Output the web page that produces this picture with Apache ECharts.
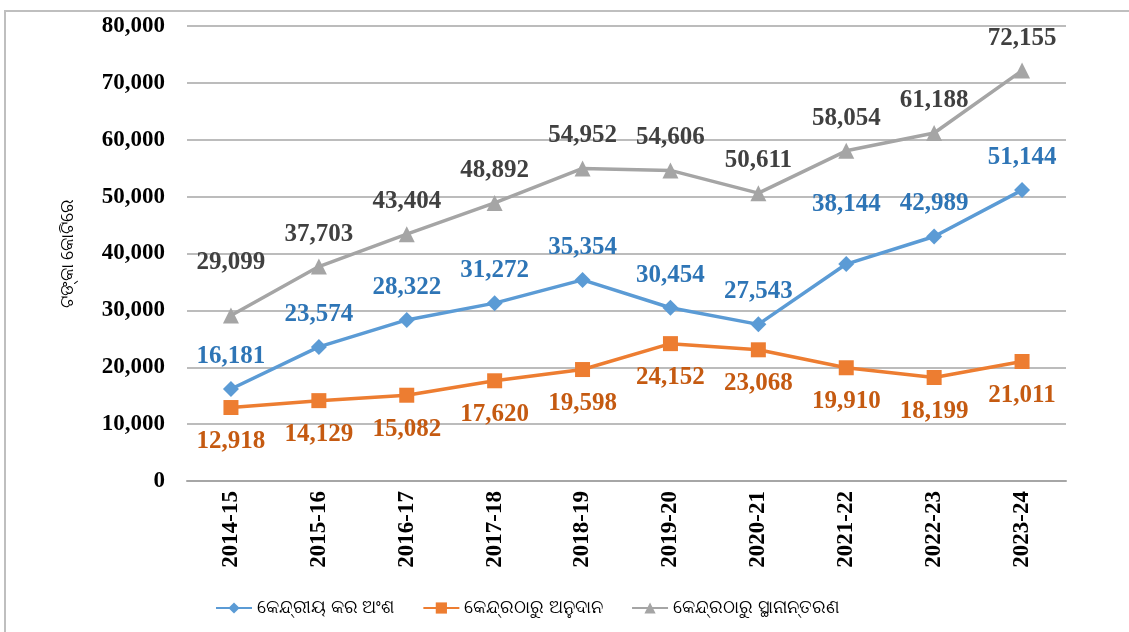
<!DOCTYPE html>
<html>
<head>
<meta charset="utf-8">
<script src="https://cdn.jsdelivr.net/npm/echarts@6/dist/echarts.min.js"></script>
<style>
  html, body { margin: 0; padding: 0; background: #fff; }
  #chart { width: 1129px; height: 632px; }
</style>
</head>
<body>
<div id="chart"></div>
<script>
// years
var years = ['2014-15', '2015-16', '2016-17', '2017-18', '2018-19', '2019-20', '2020-21', '2021-22', '2022-23', '2023-24'];
// ଟଙ୍କା କୋଟିରେ
var taxShare = [16181, 23574, 28322, 31272, 35354, 30454, 27543, 38144, 42989, 51144];
var grants = [12918, 14129, 15082, 17620, 19598, 24152, 23068, 19910, 18199, 21011];
var transfers = [29099, 37703, 43404, 48892, 54952, 54606, 50611, 58054, 61188, 72155];
var seriesNames = ['କେନ୍ଦ୍ରୀୟ କର ଅଂଶ', 'କେନ୍ଦ୍ରଠାରୁ ଅନୁଦାନ', 'କେନ୍ଦ୍ରଠାରୁ ସ୍ଥାନାନ୍ତରଣ'];
var yTicks = [0, 10000, 20000, 30000, 40000, 50000, 60000, 70000, 80000];

var serif = '"Liberation Serif", "Times New Roman", serif';
var fmt = function (v) { return v.toLocaleString('en-US'); };

// push a couple of labels further up so they don't collide
function withLift(arr, lifts) {
    return arr.map(function (v, i) {
        if (lifts[i]) return { value: v, label: { offset: [0, -lifts[i]] } };
        return v;
    });
}

function lineSeries(name, data, color, labelColor, symbol, pos) {
    return {
        name: name,
        type: 'line',
        data: data,
        symbol: symbol,
        symbolSize: symbol === 'rect' ? 15 : 16,
        lineStyle: { color: color, width: 3.5 },
        itemStyle: { color: color },
        label: {
            show: true,
            position: pos,
            distance: pos === 'top' ? 12 : 14,
            color: labelColor,
            fontFamily: serif,
            fontWeight: 'bold',
            fontSize: 25,
            formatter: function (p) { return fmt(p.value); }
        }
    };
}

var myChart = echarts.init(document.getElementById('chart'));
var option = {
    animation: false,
    backgroundColor: '#fff',
    graphic: [{
        type: 'rect',
        shape: { x: 5, y: 11, width: 1300, height: 800 },
        style: { fill: 'none', stroke: '#bfbfbf', lineWidth: 2 },
        silent: true
    }],
    grid: { left: 187, right: 63, top: 26, bottom: 151 },
    legend: {
        left: 210,
        top: 594,
        itemWidth: 36,
        itemHeight: 14,
        itemGap: 28,
        textStyle: { color: '#000', fontSize: 18, fontFamily: '"Noto Sans", sans-serif' },
        data: seriesNames
    },
    xAxis: {
        type: 'category',
        data: years,
        boundaryGap: true,
        axisLine: { lineStyle: { color: '#a6a6a6', width: 2 } },
        axisTick: { show: false },
        axisLabel: {
            rotate: 90,
            margin: 10,
            interval: 0,
            color: '#000',
            fontFamily: serif,
            fontWeight: 'bold',
            fontSize: 23
        }
    },
    yAxis: {
        type: 'value',
        min: yTicks[0],
        max: yTicks[yTicks.length - 1],
        interval: 10000,
        name: 'ଟଙ୍କା କୋଟିରେ',
        nameLocation: 'middle',
        nameRotate: 90,
        nameGap: 110,
        nameTextStyle: { color: '#000', fontSize: 18, fontFamily: '"Noto Sans", sans-serif' },
        axisLine: { show: false },
        axisTick: { show: false },
        splitLine: { lineStyle: { color: '#a6a6a6', width: 1.5 } },
        axisLabel: {
            margin: 22,
            color: '#000',
            fontFamily: serif,
            fontWeight: 'bold',
            fontSize: 23,
            formatter: function (v) { return fmt(v); }
        }
    },
    series: [
        lineSeries(seriesNames[0], withLift(taxShare, { 7: 27 }), '#5b9bd5', '#2e75b6', 'diamond', 'top'),
        lineSeries(seriesNames[1], grants, '#ed7d31', '#c55a11', 'rect', 'bottom'),
        lineSeries(seriesNames[2], withLift(transfers, { 0: 20 }), '#a5a5a5', '#404040', 'triangle', 'top')
    ]
};
myChart.setOption(option);
</script>
</body>
</html>
